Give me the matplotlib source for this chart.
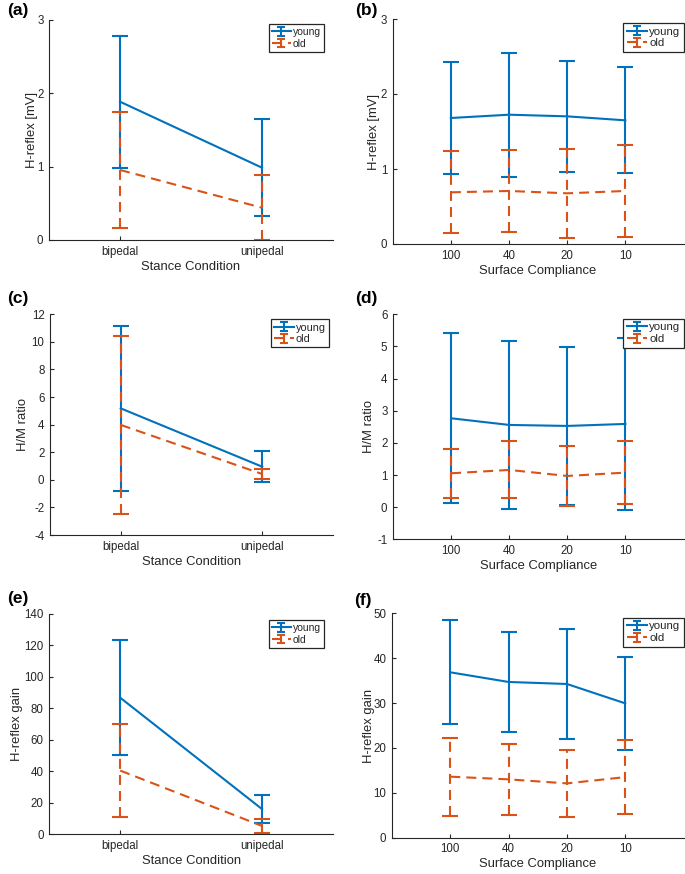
import matplotlib
matplotlib.use("Agg")
import matplotlib.pyplot as plt
from matplotlib.lines import Line2D
from matplotlib.legend_handler import HandlerErrorbar
import numpy as np

plt.rcParams['font.family'] = ['Liberation Sans', 'DejaVu Sans']
plt.rcParams['axes.unicode_minus'] = False

# ---------------- data ----------------
stance_labels = ['bipedal', 'unipedal']
compliance_labels = ['100', '40', '20', '10']

hreflex_stance_young = [1.886, 0.986]
hreflex_stance_young_sd = [0.90, 0.66]
hreflex_stance_old = [0.955, 0.44]
hreflex_stance_old_sd = [0.79, 0.44]

hreflex_surface_young = [1.68, 1.724, 1.702, 1.649]
hreflex_surface_young_sd = [0.742, 0.824, 0.74, 0.707]
hreflex_surface_old = [0.689, 0.707, 0.676, 0.707]
hreflex_surface_old_sd = [0.545, 0.545, 0.591, 0.618]

hm_stance_young = [5.18, 0.95]
hm_stance_young_sd = [5.96, 1.14]
hm_stance_old = [3.98, 0.42]
hm_stance_old_sd = [6.43, 0.33]

hm_surface_young = [2.765, 2.558, 2.527, 2.589]
hm_surface_young_sd = [2.645, 2.618, 2.459, 2.67]
hm_surface_old = [1.054, 1.158, 0.971, 1.075]
hm_surface_old_sd = [0.767, 0.888, 0.944, 0.975]

gain_stance_young = [86.8, 16.0]
gain_stance_young_sd = [36.4, 8.9]
gain_stance_old = [40.5, 5.3]
gain_stance_old_sd = [29.5, 4.2]

gain_surface_young = [36.85, 34.7, 34.25, 29.94]
gain_surface_young_sd = [11.59, 11.11, 12.2, 10.4]
gain_surface_old = [13.6, 13.0, 12.1, 13.5]
gain_surface_old_sd = [8.69, 7.87, 7.4, 8.2]

BLUE = '#0072BD'
ORANGE = '#D95319'
DARK = '#262626'

W, H = 685, 874
fig = plt.figure(figsize=(W / 100, H / 100), dpi=100)

# axes boxes in pixels: left, top, right, bottom
boxes = {
    'a': (49, 20, 333, 240),
    'b': (392.7, 19, 683.5, 244),
    'c': (50, 314.3, 333, 535),
    'd': (393, 314.3, 683.5, 539.3),
    'e': (49.3, 614, 333, 834.3),
    'f': (392, 613.3, 683.5, 837.7),
}
leg_pos = {  # right, top in px
    'a': (324, 24), 'b': (684, 23.3), 'c': (329, 319.3),
    'd': (684, 319), 'e': (324, 620), 'f': (684, 618),
}
leg_fs = {'a': 7.5, 'b': 8.2, 'c': 7.8, 'd': 8.2, 'e': 7.5, 'f': 8.2}
ylabel_off = {'a': -17.3, 'b': -19, 'c': -26.7, 'd': -24.3, 'e': -32, 'f': -23.3}
panel_lbl = {'a': (7, 10), 'b': (354.7, 10), 'c': (7, 298), 'd': (355, 299),
             'e': (7, 598), 'f': (354, 600)}

panels = [
    ('a', stance_labels, hreflex_stance_young, hreflex_stance_young_sd,
     hreflex_stance_old, hreflex_stance_old_sd, 'H-reflex [mV]', 'Stance Condition',
     (0, 3), np.arange(0, 4, 1)),
    ('b', compliance_labels, hreflex_surface_young, hreflex_surface_young_sd,
     hreflex_surface_old, hreflex_surface_old_sd, 'H-reflex [mV]', 'Surface Compliance',
     (0, 3), np.arange(0, 4, 1)),
    ('c', stance_labels, hm_stance_young, hm_stance_young_sd,
     hm_stance_old, hm_stance_old_sd, 'H/M ratio', 'Stance Condition',
     (-4, 12), np.arange(-4, 13, 2)),
    ('d', compliance_labels, hm_surface_young, hm_surface_young_sd,
     hm_surface_old, hm_surface_old_sd, 'H/M ratio', 'Surface Compliance',
     (-1, 6), np.arange(-1, 7, 1)),
    ('e', stance_labels, gain_stance_young, gain_stance_young_sd,
     gain_stance_old, gain_stance_old_sd, 'H-reflex gain', 'Stance Condition',
     (0, 140), np.arange(0, 141, 20)),
    ('f', compliance_labels, gain_surface_young, gain_surface_young_sd,
     gain_surface_old, gain_surface_old_sd, 'H-reflex gain', 'Surface Compliance',
     (0, 50), np.arange(0, 51, 10)),
]

dash = (4.8, 2.9)

for key, cats, ym, ysd, om, osd, ylab, xlab, ylim, yticks in panels:
    l, t, r, b = boxes[key]
    ax = fig.add_axes([l / W, 1 - b / H, (r - l) / W, (b - t) / H])
    x = np.arange(1, len(cats) + 1)
    ey = ax.errorbar(x, ym, yerr=ysd, color=BLUE, lw=1.5, capsize=6, capthick=1.5,
                     elinewidth=1.5, label='young')
    eo = ax.errorbar(x, om, yerr=osd, color=ORANGE, lw=1.5, capsize=6, capthick=1.5,
                     elinewidth=1.5, label='old', dashes=dash)
    for lc in eo[2]:
        lc.set_linestyle((0, dash))
    if len(cats) == 2:
        ax.set_xlim(0.5, 2.5)
    else:
        ax.set_xlim(0, 5)
    ax.set_ylim(*ylim)
    ax.set_yticks(yticks)
    ax.set_xticks(x)
    ax.set_xticklabels(cats)
    for s in ['top', 'right']:
        ax.spines[s].set_visible(False)
    for s in ['left', 'bottom']:
        ax.spines[s].set_color(DARK)
        ax.spines[s].set_linewidth(0.8)
    ax.tick_params(direction='in', length=3, width=0.8, color=DARK,
                   labelcolor=DARK, labelsize=8.3, pad=4)
    ax.set_ylabel(ylab, fontsize=9.4, color=DARK)
    ax.set_xlabel(xlab, fontsize=9.4, color=DARK)
    ax.yaxis.set_label_coords(ylabel_off[key] / (r - l), 0.5)
    ax.xaxis.set_label_coords(0.5, -26.7 / (b - t))
    ax.xaxis.label.set_va('center')
    ax.yaxis.label.set_va('center')
    rx, ty = leg_pos[key]
    leg = ax.legend(loc='upper right', bbox_to_anchor=(rx / W, 1 - ty / H),
                    bbox_transform=fig.transFigure, borderaxespad=0,
                    fontsize=leg_fs[key], handlelength=1.8, handletextpad=0.2,
                    labelspacing=0.15, borderpad=0.3, fancybox=False,
                    framealpha=1, edgecolor=DARK,
                    handler_map={type(ey): HandlerErrorbar(xerr_size=0.5, yerr_size=0.4)})
    leg.get_frame().set_linewidth(0.9)
    for ln in leg.findobj(Line2D):
        if ln.get_marker() == '_':
            ln.set_markersize(5.5)
    for txt in leg.get_texts():
        txt.set_color(DARK)
    px, py = panel_lbl[key]
    fig.text(px / W, 1 - py / H, '(' + key + ')', fontsize=12.5, fontweight='bold',
             ha='left', va='center', color='black')

fig.savefig('out.png', dpi=100)
